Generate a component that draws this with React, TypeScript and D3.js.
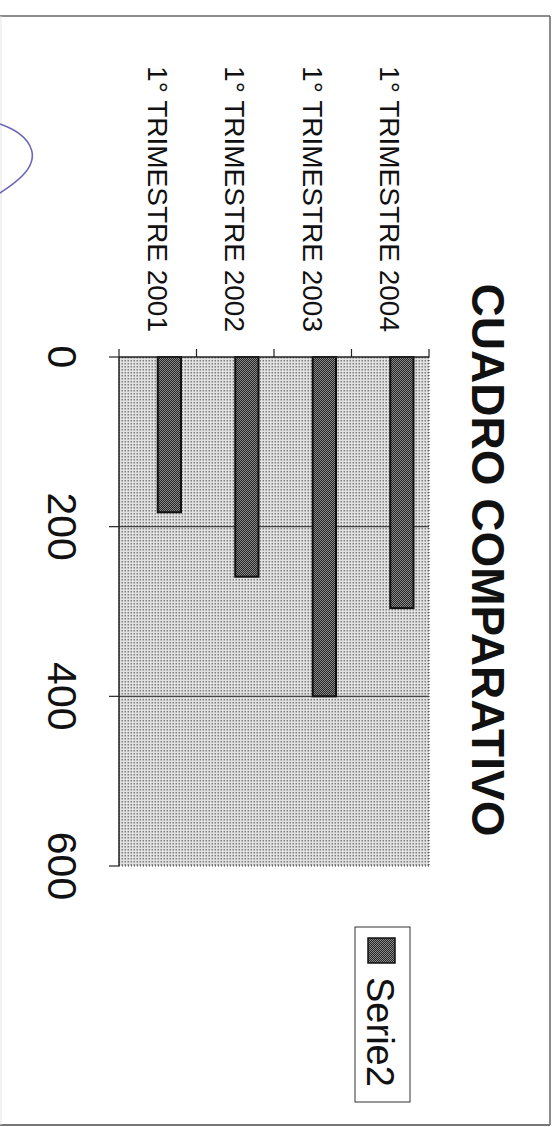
import React from "react";
import * as d3 from "d3";

// ---- data ----
const categories = [
  "1° TRIMESTRE 2001",
  "1° TRIMESTRE 2002",
  "1° TRIMESTRE 2003",
  "1° TRIMESTRE 2004",
];
const serie2Values = [183, 259, 400, 296];
const seriesNames = ["Serie2"];
const valueTicks = [0, 200, 400, 600];
const titleText = "CUADRO COMPARATIVO";

const W = 552;
const H = 1127;
const FONT = "'Liberation Sans', Arial, Helvetica, sans-serif";

export default function App() {
  // chart is drawn unrotated (u = horizontal, v = vertical) then turned 90° clockwise
  const x = d3.scaleLinear().domain([0, 600]).range([357, 866]);
  const y = d3
    .scaleBand<string>()
    .domain([...categories].reverse())
    .range([123, 433])
    .padding(0);
  const inner = d3
    .scaleBand<string>()
    .domain(seriesNames)
    .range([0, y.bandwidth()])
    .paddingInner(0)
    .paddingOuter(1.1667)
    .align(0.2857);

  const plotTop = y.range()[0];
  const plotBottom = y.range()[1];
  const boundaries = [...y.domain().map((c) => y(c) as number), plotBottom];

  const curve = d3.line<[number, number]>().curve(d3.curveBasis)([
    [0, 124],
    [20, 132],
    [35, 150],
    [30, 170],
    [12, 185],
    [0, 193],
  ]);

  return (
    <svg
      width={W}
      height={H}
      style={{ position: "absolute", left: 0, top: 0, background: "#fff" }}
      fontFamily={FONT}
    >
      <defs>
        <pattern id="plotFill" width="3" height="3" patternUnits="userSpaceOnUse">
          <rect width="3" height="3" fill="#e2e2e2" />
          <rect width="1.5" height="1.5" fill="#7e7e7e" />
        </pattern>
        <pattern id="barFill" width="2" height="2" patternUnits="userSpaceOnUse">
          <rect width="2" height="2" fill="#8a8a8a" />
          <rect width="1" height="1" fill="#262626" />
          <rect x="1" y="1" width="1" height="1" fill="#262626" />
        </pattern>
      </defs>

      {/* page frame */}
      <line x1={0} y1={16} x2={550} y2={16} stroke="#666" strokeWidth={1.5} />
      <line x1={550} y1={16} x2={550} y2={1125} stroke="#666" strokeWidth={1.5} />
      <line x1={0} y1={1125} x2={550} y2={1125} stroke="#777" strokeWidth={2} />
      <line x1={1} y1={16} x2={1} y2={1125} stroke="#e4e4e4" strokeWidth={1} />

      {/* hand-drawn mark */}
      <path d={curve ?? ""} fill="none" stroke="#6b67b8" strokeWidth={1.6} />

      <g transform={`translate(${W},0) rotate(90)`}>
        {/* title */}
        <text
          x={560}
          y={80}
          textAnchor="middle"
          fontSize={46}
          fontWeight="bold"
          fill="#111"
        >
          {titleText}
        </text>

        {/* plot area */}
        <rect
          x={x(0)}
          y={plotTop}
          width={x(600) - x(0)}
          height={plotBottom - plotTop}
          fill="url(#plotFill)"
        />
        {/* dotted outer border */}
        <line
          x1={x(0)}
          y1={plotTop}
          x2={x(600)}
          y2={plotTop}
          stroke="#333"
          strokeWidth={1}
          strokeDasharray="1 2"
        />
        <line
          x1={x(600)}
          y1={plotTop}
          x2={x(600)}
          y2={plotBottom}
          stroke="#333"
          strokeWidth={1.2}
          strokeDasharray="1 2"
        />

        {/* gridlines */}
        {valueTicks
          .filter((t) => t > 0 && t < 600)
          .map((t) => (
            <line
              key={`g${t}`}
              x1={x(t)}
              x2={x(t)}
              y1={plotTop}
              y2={plotBottom}
              stroke="#444"
              strokeWidth={1.4}
            />
          ))}

        {/* bars */}
        {categories.map((c, i) => (
          <rect
            key={c}
            x={x(0)}
            y={(y(c) as number) + (inner("Serie2") as number)}
            width={x(serie2Values[i]) - x(0)}
            height={inner.bandwidth()}
            fill="url(#barFill)"
            stroke="#111"
            strokeWidth={2}
          />
        ))}

        {/* category axis */}
        <line x1={x(0)} x2={x(0)} y1={plotTop} y2={plotBottom} stroke="#222" strokeWidth={1.5} />
        {boundaries.map((b, i) => (
          <line key={`ct${i}`} x1={x(0) - 8} x2={x(0)} y1={b} y2={b} stroke="#222" strokeWidth={1.2} />
        ))}
        {categories.map((c) => (
          <text
            key={`cl${c}`}
            x={332}
            y={(y(c) as number) + y.bandwidth() / 2 + 10}
            textAnchor="end"
            fontSize={28}
            fill="#111"
          >
            {c}
          </text>
        ))}

        {/* value axis */}
        <line x1={x(0)} x2={x(600)} y1={plotBottom} y2={plotBottom} stroke="#222" strokeWidth={1.5} />
        {valueTicks.map((t) => (
          <g key={`vt${t}`}>
            <line x1={x(t)} x2={x(t)} y1={plotBottom} y2={plotBottom + 10} stroke="#222" strokeWidth={1.2} />
            <text x={x(t)} y={504} textAnchor="middle" fontSize={41} fill="#111">
              {t}
            </text>
          </g>
        ))}

        {/* legend */}
        <rect x={927} y={142} width={175} height={55} fill="#fff" stroke="#333" strokeWidth={1} />
        <rect x={938} y={157} width={25} height={27} fill="url(#barFill)" stroke="#111" strokeWidth={1.5} />
        <text x={977} y={185} fontSize={38} fill="#111">
          {seriesNames[0]}
        </text>
      </g>
    </svg>
  );
}
